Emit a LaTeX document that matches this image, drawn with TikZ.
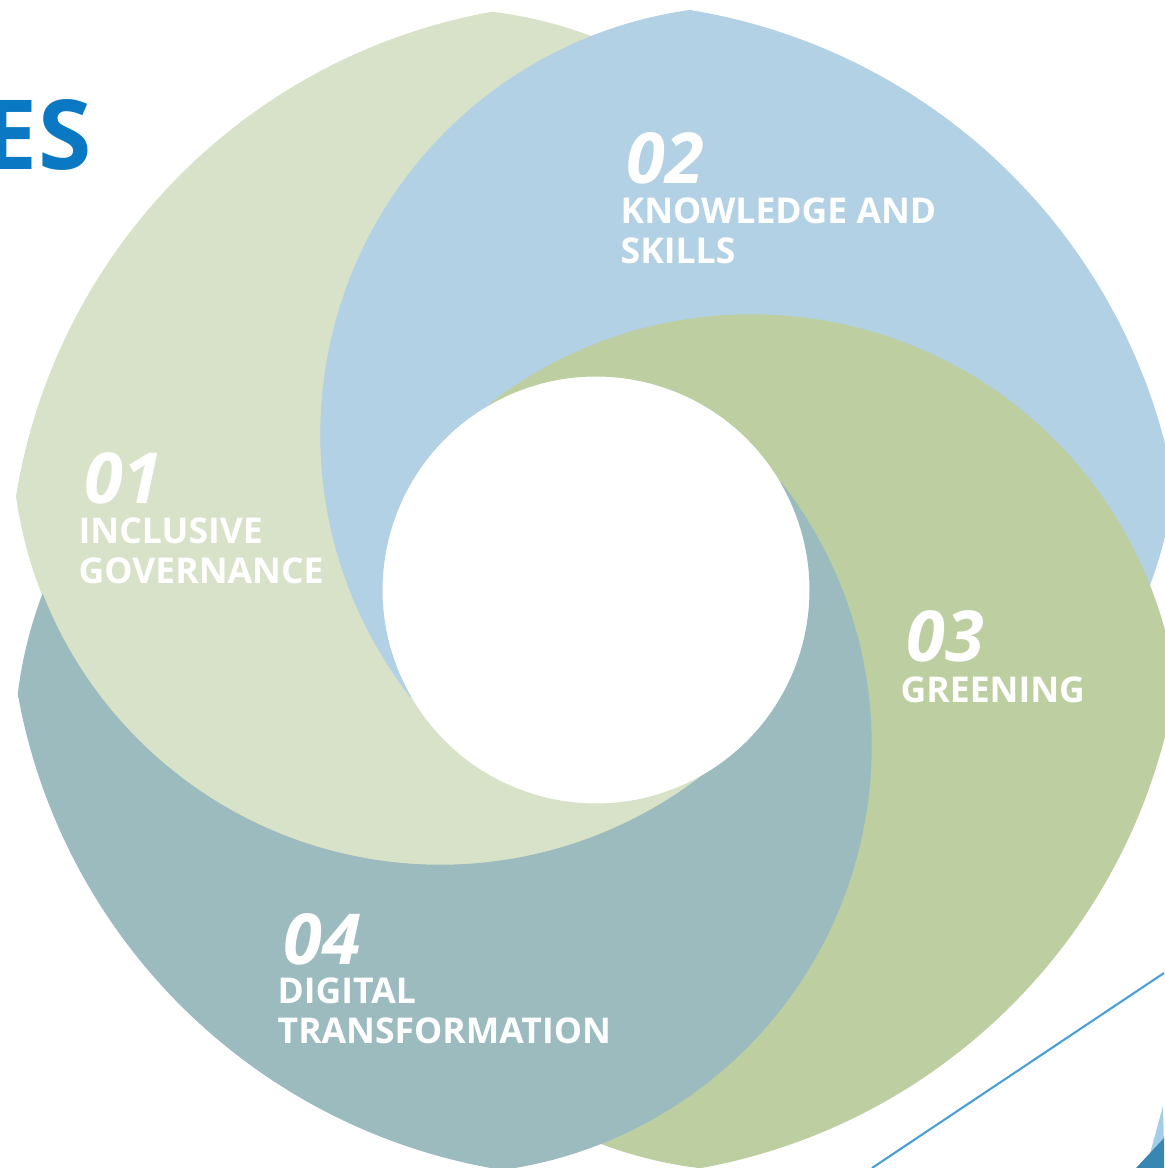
\documentclass[tikz,border=0pt]{standalone}
\usepackage{fontspec}
\setmainfont{Open Sans}
\definecolor{govgreen}{HTML}{D8E2C8}
\definecolor{skillblue}{HTML}{B3D1E4}
\definecolor{greengreen}{HTML}{BDCFA1}
\definecolor{digiteal}{HTML}{9BBBBF}
\definecolor{titleblue}{HTML}{0A78C2}
\definecolor{lineblue}{HTML}{4A9FD6}
\definecolor{darkblue}{HTML}{3A86B2}
\definecolor{paleblue}{HTML}{A3CEE8}
\tikzset{
  petalpath/.style={insert path={(-170.79:587) arc[start angle=-170.79, end angle=-100.21, radius=587]
      arc[start angle=-83.09, end angle=-69.39, radius=428]
      arc[start angle=-111.61, end angle=-217.77, radius=428]
      arc[start angle=150.1, end angle=60.1, radius=214]
      arc[start angle=52.23, end angle=172.1, radius=428] -- cycle}},
  petal/.style={fill=#1, draw=#1, line width=0.3pt},
  num/.style={anchor=base west, inner sep=0pt, text=white, font=\fontsize{20}{20}\selectfont\bfseries\itshape},
  lab/.style={anchor=north west, inner sep=0pt, text=white, align=left, font=\fontsize{10.1}{11.34}\selectfont\bfseries}
}
\begin{document}
\begin{tikzpicture}[x=0.01cm, y=-0.01cm]
    \useasboundingbox (0,0) rectangle (1164,1168);

    \begin{scope}[shift={(596,590)}]
        \path[petal=govgreen, petalpath];
        \begin{scope}[rotate=-90]
            \path[petal=skillblue, petalpath];
        \end{scope}
        \begin{scope}[rotate=-180]
            \path[petal=greengreen, petalpath];
        \end{scope}
        \begin{scope}[rotate=-270]
            \path[petal=digiteal, petalpath];
        \end{scope}
    \end{scope}

    \draw[lineblue, line width=0.6pt] (1164,973) -- (872,1168);
    \fill[paleblue] (1163,1106) -- (1149,1157) -- (1164,1148) -- cycle;
    \fill[darkblue] (1136,1168) -- (1164,1138) -- (1164,1168) -- cycle;

    \node[anchor=base east, inner sep=0pt, text=titleblue, font=\fontsize{27.5}{27.5}\selectfont\bfseries] (title) at (92,170) {ES};

    \node[num] (num1) at (84,504) {01};
    \node[lab] (lab1) at (78,517) {INCLUSIVE\\GOVERNANCE};
    \node[num] (num2) at (626,184) {02};
    \node[lab] (lab2) at (620,197) {KNOWLEDGE AND\\SKILLS};
    \node[num] (num3) at (906,661) {03};
    \node[lab] (lab3) at (900,676) {GREENING};
    \node[num] (num4) at (283,964) {04};
    \node[lab] (lab4) at (277,977) {DIGITAL\\TRANSFORMATION};
\end{tikzpicture}
\end{document}
